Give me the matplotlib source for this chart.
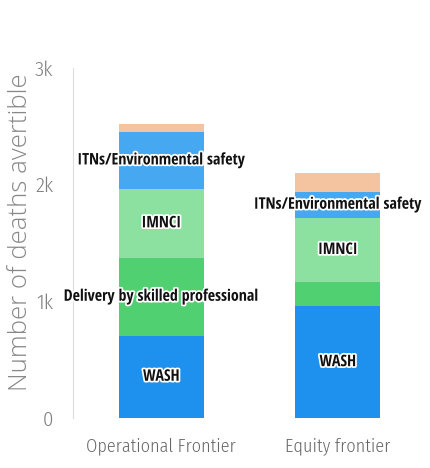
import matplotlib
matplotlib.use('Agg')
import matplotlib.pyplot as plt
import matplotlib.patheffects as pe
import numpy as np

categories = ['Operational Frontier', 'Equity frontier']
segments = ['WASH', 'Delivery by skilled professional', 'IMNCI',
            'ITNs/Environmental safety', 'Other']
values = {
    'WASH': [707, 957],
    'Delivery by skilled professional': [664, 207],
    'IMNCI': [595, 552],
    'ITNs/Environmental safety': [483, 224],
    'Other': [69, 164],
}
colors = ['#1e90ee', '#50d070', '#8ce0a0', '#45a8f0', '#f4c4a0']
# which segments get an inline label, per bar
show_label = {
    'WASH': [True, True],
    'Delivery by skilled professional': [True, False],
    'IMNCI': [True, True],
    'ITNs/Environmental safety': [True, True],
    'Other': [False, False],
}
yticks = [0, 1000, 2000, 3000]
ytick_labels = ['0', '1k', '2k', '3k']

bold_font = ['Open Sans Condensed', 'DejaVu Sans']
light_font = ['Fira Sans Condensed', 'DejaVu Sans']
wide_font = ['Open Sans', 'DejaVu Sans']

fig = plt.figure(figsize=(4.3, 4.68), dpi=100)
ax = fig.add_axes([73 / 430, 50 / 468, 353 / 430, 350 / 468])

x = np.arange(len(categories))
bottom = np.zeros(len(categories))
for seg, col in zip(segments, colors):
    v = np.array(values[seg], dtype=float)
    ax.bar(x, v, bottom=bottom, width=0.48, color=col, linewidth=0)
    for i in range(len(categories)):
        if show_label[seg][i]:
            ax.text(x[i], bottom[i] + v[i] / 2, seg, ha='center', va='center',
                    fontsize=11.5, fontweight='bold', family=bold_font,
                    color='#111111',
                    path_effects=[pe.withStroke(linewidth=2.5, foreground='white')])
    bottom += v

ax.set_xlim(-0.5, 1.5)
ax.set_ylim(0, 3000)
ax.set_yticks(yticks)
ax.set_yticklabels(ytick_labels, family=light_font, fontweight=300,
                   fontsize=15, color='#808080')
ax.set_xticks(x)
ax.set_xticklabels(categories, family=light_font, fontweight=300,
                   fontsize=13, color='#666666')
ax.tick_params(length=0, pad=14)
ax.tick_params(axis='x', pad=14)
ax.set_ylabel('Number of deaths avertible', family=wide_font, fontweight=300,
              fontsize=18.5, color='#888888')
ax.yaxis.set_label_coords(-0.112, 0.53)
for s in ['top', 'right', 'bottom']:
    ax.spines[s].set_visible(False)
ax.spines['left'].set_color('#dddddd')

fig.savefig('out.png', dpi=100)
